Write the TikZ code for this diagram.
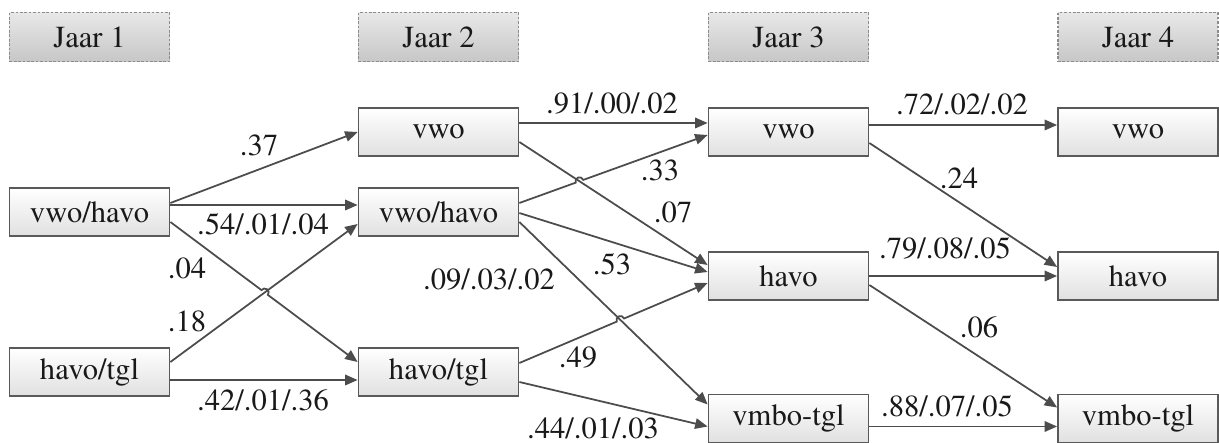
\documentclass[tikz,border=0pt]{standalone}
\usepackage[T1]{fontenc}
\usepackage{times}
\usetikzlibrary{arrows.meta,calc,intersections}

\tikzset{
  yearbox/.style={draw=black!45,dash pattern=on 1.5pt off 1pt,line width=0.8pt,
    top color=black!9,bottom color=black!22,minimum width=3.2cm,minimum height=0.98cm,inner sep=0pt},
  statebox/.style={draw=black!65,line width=1pt,top color=white,bottom color=black!12,
    minimum width=3.2cm,minimum height=0.96cm,inner sep=0pt},
  conn/.style={draw=black!70,line width=1pt,-{Triangle[length=0.25cm,width=0.21cm]}},
  prob/.style={inner sep=0pt}
}
\newcommand{\hoprad}{0.08cm}
\newcommand{\hopline}[3]{%
  \draw[conn] let \p1=($(#3)-(#1)$), \n1={atan2(\y1,\x1)} in
    (#1) -- ($(#2)!\hoprad!(#1)$) arc[start angle=\n1+180,end angle=\n1,radius=\hoprad] -- (#3);}

\begin{document}
\begin{tikzpicture}[x=1cm,y=1cm,every node/.style={font=\rmfamily\fontsize{17.4}{20}\selectfont,text=black!90}]
  \useasboundingbox (0,0) rectangle (24.38,8.86);

  \node[yearbox] (jaar1) at (1.79,8.12) {Jaar 1};
  \node[yearbox] (jaar2) at (8.77,8.12) {Jaar 2};
  \node[yearbox] (jaar3) at (15.77,8.12) {Jaar 3};
  \node[yearbox] (jaar4) at (22.76,8.12) {Jaar 4};

  \node[statebox] (vh1) at (1.79,4.62) {vwo/havo};
  \node[statebox] (ht1) at (1.79,1.42) {havo/tgl};
  \node[statebox] (vw2) at (8.77,6.22) {vwo};
  \node[statebox] (vh2) at (8.77,4.62) {vwo/havo};
  \node[statebox] (ht2) at (8.77,1.42) {havo/tgl};
  \node[statebox] (vw3) at (15.77,6.22) {vwo};
  \node[statebox] (ha3) at (15.77,3.34) {havo};
  \node[statebox] (vm3) at (15.77,0.49) {vmbo-tgl};
  \node[statebox] (vw4) at (22.76,6.22) {vwo};
  \node[statebox] (ha4) at (22.76,3.34) {havo};
  \node[statebox] (vm4) at (22.76,0.49) {vmbo-tgl};

  \draw[conn] ([yshift=0.18cm]vh1.east) -- (vw2.west);
  \draw[conn] ([yshift=0.14cm]vh1.east) -- ([yshift=0.14cm]vh2.west);
  \draw[conn] ([yshift=-0.16cm]ht1.east) -- ([yshift=-0.16cm]ht2.west);
  \draw[conn] ([yshift=0.18cm]vw2.east) -- ([yshift=0.18cm]vw3.west);
  \draw[conn] ([yshift=-0.02cm]vh2.east) -- ([yshift=0.08cm]ha3.west);
  \draw[conn] ([yshift=-0.20cm]ht2.east) -- ([yshift=-0.16cm]vm3.west);
  \draw[conn] ([yshift=0.14cm]vw3.east) -- ([yshift=0.14cm]vw4.west);
  \draw[conn] ([yshift=-0.22cm]vw3.east) -- ([yshift=0.18cm]ha4.west);
  \draw[conn] (ha3.east) -- (ha4.west);
  \draw[conn] ([yshift=-0.18cm]ha3.east) -- ([yshift=0.22cm]vm4.west);
  \draw[conn] ([yshift=-0.16cm]vm3.east) -- ([yshift=-0.16cm]vm4.west);

  \coordinate (a3) at ([yshift=-0.20cm]vh1.east);
  \coordinate (b3) at ([yshift=0.20cm]ht2.west);
  \coordinate (a4) at ([yshift=0.20cm]ht1.east);
  \coordinate (b4) at ([yshift=-0.24cm]vh2.west);
  \draw[conn,name path=l4] (a4) -- (b4);
  \path[name path=l3] (a3) -- (b3);
  \path[name intersections={of=l3 and l4,by=x3}];
  \hopline{a3}{x3}{b3}

  \coordinate (a7) at ([yshift=-0.20cm]vw2.east);
  \coordinate (b7) at ([yshift=0.22cm]ha3.west);
  \coordinate (a8) at ([yshift=0.18cm]vh2.east);
  \coordinate (b8) at ([yshift=-0.06cm]vw3.west);
  \draw[conn,name path=l7] (a7) -- (b7);
  \path[name path=l8] (a8) -- (b8);
  \path[name intersections={of=l8 and l7,by=x8}];
  \hopline{a8}{x8}{b8}

  \coordinate (a10) at ([yshift=-0.20cm]vh2.east);
  \coordinate (b10) at ([yshift=0.28cm]vm3.west);
  \coordinate (a11) at ([yshift=0.18cm]ht2.east);
  \coordinate (b11) at ([yshift=-0.14cm]ha3.west);
  \draw[conn,name path=l10] (a10) -- (b10);
  \path[name path=l11] (a11) -- (b11);
  \path[name intersections={of=l11 and l10,by=x11}];
  \hopline{a11}{x11}{b11}

  \node[prob] (lab37) at (5.18,5.96) {.37};
  \node[prob] (lab54) at (5.26,4.38) {.54/.01/.04};
  \node[prob] (lab04) at (3.74,3.50) {.04};
  \node[prob] (lab18) at (3.74,2.44) {.18};
  \node[prob] (lab42) at (5.26,0.86) {.42/.01/.36};
  \node[prob] (lab91) at (12.24,6.80) {.91/.00/.02};
  \node[prob] (lab33) at (13.20,5.46) {.33};
  \node[prob] (lab07) at (13.46,4.62) {.07};
  \node[prob] (lab53) at (12.24,3.58) {.53};
  \node[prob] (lab09) at (9.78,3.28) {.09/.03/.02};
  \node[prob] (lab49) at (11.56,1.72) {.49};
  \node[prob] (lab44) at (11.86,0.30) {.44/.01/.03};
  \node[prob] (lab72) at (19.24,6.78) {.72/.02/.02};
  \node[prob] (lab24) at (19.18,5.30) {.24};
  \node[prob] (lab79) at (18.90,3.90) {.79/.08/.05};
  \node[prob] (lab06) at (19.58,2.32) {.06};
  \node[prob] (lab88) at (18.94,0.74) {.88/.07/.05};
\end{tikzpicture}
\end{document}
